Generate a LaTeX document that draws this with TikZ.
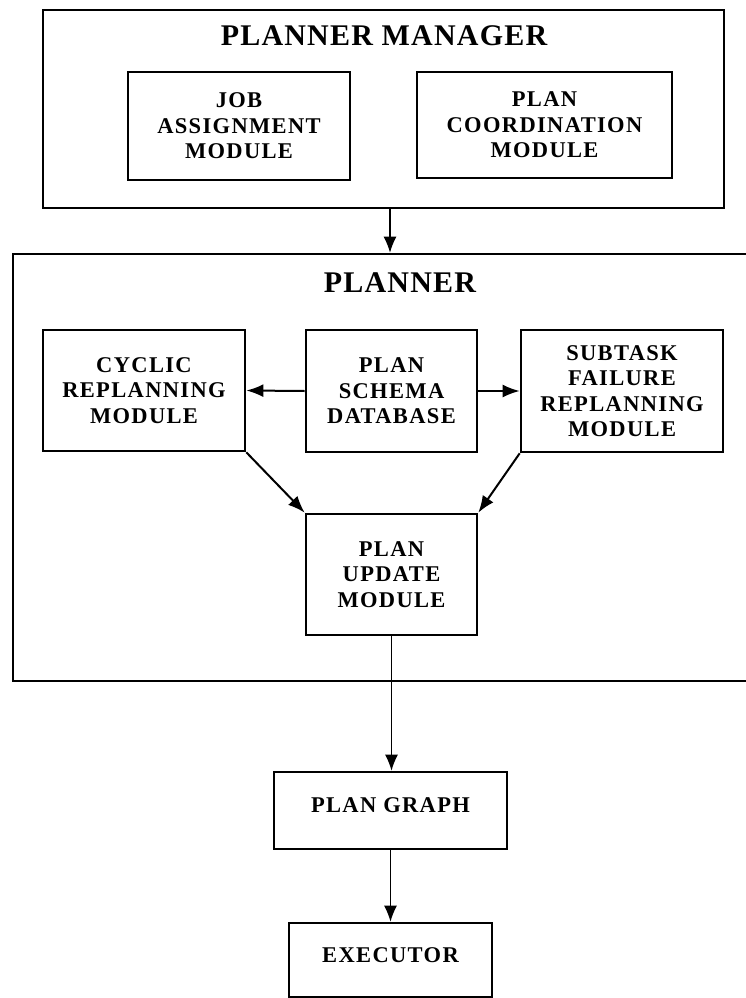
\documentclass[tikz,border=0pt]{standalone}
\usepackage{fontspec}
\setmainfont{Liberation Serif}
\newfontfamily\modfont{Liberation Serif}[LetterSpace=6]
\newfontfamily\ttlfont{Liberation Serif}[LetterSpace=4]
\usetikzlibrary{arrows.meta}
\tikzset{
  box/.style={draw, line width=2.6pt, inner sep=0pt, align=center},
  modtxt/.style={font=\modfont\bfseries\fontsize{22.5}{25.5}\selectfont},
  ttl/.style={font=\ttlfont\bfseries\fontsize{30}{36}\selectfont, inner sep=0pt},
  arr/.style={-{Latex[length=16pt,width=13pt]}, line width=1.3pt},
  darr/.style={-{Latex[length=17pt,width=13pt]}, line width=2pt},
}
\begin{document}
\begin{tikzpicture}[x=1pt,y=-1pt]
\useasboundingbox (0,0) rectangle (746,998);
\clip (0,0) rectangle (746,998);
% Planner manager
\node[box, minimum width=681pt, minimum height=198pt] (pm) at (383.5,109) {};
\node[ttl] (pmt) at (384,36) {PLANNER MANAGER};
\node[box, modtxt, minimum width=222pt, minimum height=108pt] (ja) at (239,126) {JOB\\ASSIGNMENT\\MODULE};
\node[box, modtxt, minimum width=255pt, minimum height=106pt] (pc) at (544.5,125) {PLAN\\COORDINATION\\MODULE};
% Planner
\node[box, minimum width=767pt, minimum height=427pt] (planner) at (396.5,467.5) {};
\node[ttl] (plt) at (400,283) {PLANNER};
\node[box, modtxt, minimum width=202pt, minimum height=121pt] (cr) at (144,390.5) {CYCLIC\\REPLANNING\\MODULE};
\node[box, modtxt, minimum width=171pt, minimum height=122pt] (psd) at (391.5,391) {PLAN\\SCHEMA\\DATABASE};
\node[box, modtxt, minimum width=202pt, minimum height=122pt] (sfr) at (622,391) {SUBTASK\\FAILURE\\REPLANNING\\MODULE};
\node[box, modtxt, minimum width=171pt, minimum height=121pt] (pum) at (391.5,574.5) {PLAN\\UPDATE\\MODULE};
% Lower
\node[box, modtxt, minimum width=233pt, minimum height=77pt, text height=16pt, text depth=12pt] (pg) at (390.5,810.5) {PLAN GRAPH};
\node[box, modtxt, minimum width=203pt, minimum height=74pt, text height=16pt, text depth=11pt] (ex) at (390.5,960) {EXECUTOR};
% connectors
\draw[arr] ([xshift=6.5pt]pm.south) -- ([xshift=6.5pt]pm.south |- planner.north);
\draw[darr] (psd.west) -- (cr.east);
\draw[darr] (psd.east) -- (sfr.west);
\draw[darr] (cr.south east) -- (pum.north west);
\draw[darr] (sfr.south west) -- (pum.north east);
\draw[arr] (pum.south) -- (pum.south |- pg.north);
\draw[arr] (pg.south) -- (pg.south |- ex.north);
\end{tikzpicture}
\end{document}
